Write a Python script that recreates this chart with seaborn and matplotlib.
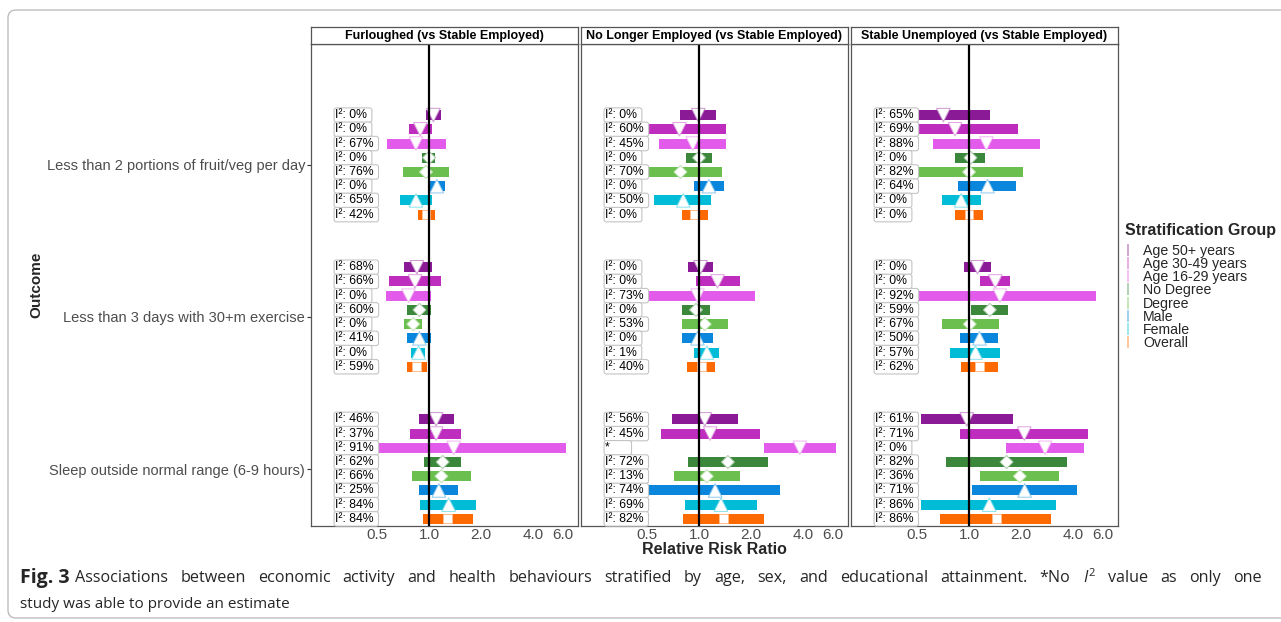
import numpy as np
import pandas as pd
import matplotlib
matplotlib.use("Agg")
import matplotlib.pyplot as plt
import matplotlib.transforms as mtransforms
from matplotlib.colors import to_rgb
from matplotlib.lines import Line2D
from matplotlib.patches import FancyBboxPatch
import seaborn as sns

# Forest plot: economic activity vs health behaviours, stratified

groups = ["Age 50+ years", "Age 30-49 years", "Age 16-29 years", "No Degree",
          "Degree", "Male", "Female", "Overall"]
group_colors = ["#8B1A96", "#BE2DBE", "#E35BEB", "#3B873B",
                "#6BBF4F", "#0A87DC", "#00BCD6", "#FF6A00"]
group_markers = ["v", "v", "v", "D", "D", "^", "^", "s"]
outcomes = ["Less than 2 portions of fruit/veg per day",
            "Less than 3 days with 30+m exercise",
            "Sleep outside normal range (6-9 hours)"]
panels = ["Furloughed (vs Stable Employed)",
          "No Longer Employed (vs Stable Employed)",
          "Stable Unemployed (vs Stable Employed)"]

# values: 3 outcomes x 8 groups, outcome-major
furl_est = [1.06, 0.89, 0.84, 1.00, 0.96, 1.11, 0.84, 0.96,
            0.85, 0.83, 0.76, 0.88, 0.81, 0.88, 0.87, 0.85,
            1.10, 1.10, 1.39, 1.20, 1.18, 1.14, 1.30, 1.28]
furl_lo = [0.96, 0.77, 0.57, 0.91, 0.71, 1.00, 0.68, 0.86,
           0.72, 0.59, 0.56, 0.75, 0.72, 0.75, 0.79, 0.75,
           0.88, 0.78, 0.42, 0.94, 0.80, 0.88, 0.89, 0.92]
furl_hi = [1.17, 1.04, 1.25, 1.09, 1.30, 1.23, 1.04, 1.09,
           1.04, 1.17, 1.03, 1.03, 0.91, 1.03, 0.95, 0.97,
           1.39, 1.54, 6.25, 1.54, 1.75, 1.48, 1.88, 1.79]
furl_i2 = ["0%", "0%", "67%", "0%", "76%", "0%", "65%", "42%",
           "68%", "66%", "0%", "60%", "0%", "41%", "0%", "59%",
           "46%", "37%", "91%", "62%", "66%", "25%", "84%", "84%"]

nle_est = [0.99, 0.77, 0.92, 1.00, 0.78, 1.14, 0.81, 0.94,
           1.02, 1.28, 0.98, 0.96, 1.08, 0.98, 1.11, 1.03,
           1.08, 1.16, 3.84, 1.47, 1.11, 1.24, 1.34, 1.38]
nle_lo = [0.78, 0.42, 0.59, 0.84, 0.42, 0.93, 0.55, 0.80,
          0.86, 0.96, 0.42, 0.80, 0.80, 0.80, 0.94, 0.85,
          0.70, 0.60, 2.37, 0.86, 0.72, 0.42, 0.83, 0.81]
nle_hi = [1.25, 1.44, 1.43, 1.19, 1.36, 1.39, 1.18, 1.12,
          1.20, 1.72, 2.10, 1.15, 1.48, 1.21, 1.31, 1.24,
          1.68, 2.27, 6.25, 2.50, 1.72, 2.94, 2.17, 2.37]
nle_i2 = ["0%", "60%", "45%", "0%", "70%", "0%", "50%", "0%",
          "0%", "0%", "73%", "0%", "53%", "0%", "1%", "40%",
          "56%", "45%", None, "72%", "13%", "74%", "69%", "82%"]

su_est = [0.71, 0.83, 1.26, 1.02, 1.00, 1.28, 0.90, 1.00,
          1.12, 1.42, 1.51, 1.32, 1.01, 1.15, 1.09, 1.15,
          0.97, 2.09, 2.76, 1.65, 1.97, 2.10, 1.31, 1.44]
su_lo = [0.42, 0.42, 0.62, 0.83, 0.42, 0.86, 0.70, 0.83,
         0.93, 1.15, 0.42, 1.03, 0.70, 0.89, 0.78, 0.90,
         0.53, 0.89, 1.63, 0.74, 1.16, 1.04, 0.53, 0.68]
su_hi = [1.33, 1.93, 2.57, 1.24, 2.06, 1.88, 1.17, 1.20,
         1.34, 1.73, 5.47, 1.68, 1.50, 1.47, 1.52, 1.47,
         1.80, 4.92, 4.66, 3.68, 3.34, 4.24, 3.19, 3.00]
su_i2 = ["65%", "69%", "88%", "0%", "82%", "64%", "0%", "0%",
         "0%", "0%", "92%", "59%", "67%", "50%", "57%", "62%",
         "61%", "71%", "0%", "82%", "36%", "71%", "86%", "86%"]

x_ticks = [0.5, 1.0, 2.0, 4.0, 6.0]
x_ticklabels = ["0.5", "1.0", "2.0", "4.0", "6.0"]

panel_data = [(furl_est, furl_lo, furl_hi, furl_i2),
              (nle_est, nle_lo, nle_hi, nle_i2),
              (su_est, su_lo, su_hi, su_i2)]

sns.set_theme(style="white")
plt.rcParams["font.family"] = ["Liberation Sans", "DejaVu Sans"]
plt.rcParams["mathtext.fontset"] = "custom"
plt.rcParams["mathtext.it"] = "Open Sans:italic"
plt.rcParams["mathtext.rm"] = "Open Sans"

W, H = 1281, 622
fig = plt.figure(figsize=(W / 100, H / 100), dpi=100)

GAP = 10.7  # spacing between outcome blocks, in rows
marker_map = dict(zip(groups, group_markers))
size_map = {g: (95 if m in ("v", "^") else 44 if m == "D" else 40)
            for g, m in zip(groups, group_markers)}
edge_tints = [tuple(0.55 + 0.45 * c for c in to_rgb(col)) for col in group_colors]
lefts = [311, 581, 851]
pw = 267
top, bottom = 44, 526
strip_top = 27

for p, (est, lo, hi, i2) in enumerate(panel_data):
    df = pd.DataFrame({
        "outcome": np.repeat(outcomes, len(groups)),
        "group": groups * len(outcomes),
        "color": group_colors * len(outcomes),
        "est": est, "lo": lo, "hi": hi, "i2": i2,
    })
    df["y"] = [o * GAP + (r - 3.5) for o in range(3) for r in range(8)]

    ax = fig.add_axes([lefts[p] / W, (H - bottom) / H, pw / W, (bottom - top) / H])
    ax.set_xscale("log")
    ax.barh(df["y"], df["hi"] - df["lo"], left=df["lo"], height=0.7,
            color=df["color"], linewidth=0, zorder=2)
    sns.scatterplot(data=df, x="est", y="y", style="group", markers=marker_map,
                    size="group", sizes=size_map, color="white",
                    edgecolor=edge_tints * len(outcomes),
                    linewidth=0.7, legend=False, ax=ax, zorder=3)
    ax.axvline(1.0, color="black", lw=1.6, zorder=4)

    trans = mtransforms.blended_transform_factory(ax.transAxes, ax.transData)
    for y, lab in zip(df["y"], df["i2"]):
        txt = "I\u00b2: " + lab + " " if lab is not None else "*      "
        ax.text(0.091, y, txt, transform=trans, ha="left", va="center",
                fontsize=8.8, color="black", zorder=5,
                bbox=dict(boxstyle="round,pad=0.1,rounding_size=0.2",
                          fc="white", ec="#c4c4c4", lw=0.8))

    ax.set_xlim(0.207, 7.3)
    ax.set_ylim(2 * GAP + 4.0, -8.5)
    ax.set_xticks(x_ticks)
    ax.set_xticklabels(x_ticklabels)
    ax.minorticks_off()
    ax.tick_params(axis="x", length=0, pad=1.5, labelsize=11, labelcolor="#4d4d4d")
    ax.set_xlabel("")
    ax.set_ylabel("")
    if p == 0:
        ax.set_yticks([o * GAP for o in range(3)])
        ax.set_yticklabels(outcomes)
        ax.tick_params(axis="y", left=True, length=3, width=0.8, color="#333333",
                       pad=1.2, labelsize=10.5, labelcolor="#4d4d4d")
    else:
        ax.set_yticks([])
    for s in ax.spines.values():
        s.set_color("#555555")
        s.set_linewidth(0.9)

    sax = fig.add_axes([lefts[p] / W, (H - top) / H, pw / W, (top - strip_top) / H])
    sax.set_xticks([])
    sax.set_yticks([])
    sax.set_facecolor("white")
    for s in sax.spines.values():
        s.set_color("#555555")
        s.set_linewidth(0.9)
    sax.text(0.5, 0.5, panels[p], ha="center", va="center", fontsize=9,
             fontweight="bold", color="black", transform=sax.transAxes)

fig.text(36 / W, 1 - 285 / H, "Outcome", rotation=90, ha="center", va="center",
         fontsize=11, fontweight="bold")
fig.text(714.5 / W, 1 - 550 / H, "Relative Risk Ratio", ha="center", va="center",
         fontsize=11.5, fontweight="bold")

# legend
fig.text(1125 / W, 1 - 230 / H, "Stratification Group", ha="left", va="center",
         fontsize=11.5, fontweight="bold")
handles = [Line2D([], [], marker="|", linestyle="None", color=c, alpha=0.45,
                  markersize=8, markeredgewidth=1.2) for c in group_colors]
fig.legend(handles, groups, loc="upper left",
           bbox_to_anchor=(1124 / W, 1 - 244 / H), frameon=False,
           fontsize=10.2, handlelength=0.6, handletextpad=0.75,
           labelspacing=-0.06, borderaxespad=0, borderpad=0)

# caption, first line justified
cap = ["Open Sans", "DejaVu Sans"]
fig.text(20 / W, 1 - 578 / H, "Fig. 3", ha="left", va="center", fontsize=14,
         fontweight="bold", family=cap)
line1 = ("Associations between economic activity and health behaviours stratified by "
         "age, sex, and educational attainment. *No $I^2$ value as only one")
renderer = fig.canvas.get_renderer()
words = line1.split(" ")
objs = [fig.text(0, 1 - 578 / H, w, ha="left", va="center", fontsize=11.6, family=cap)
        for w in words]
widths = [o.get_window_extent(renderer).width for o in objs]
space = (1262 - 75 - sum(widths)) / (len(words) - 1)
xpos = 75
for o, wd in zip(objs, widths):
    o.set_x(xpos / W)
    xpos += wd + space
fig.text(20 / W, 1 - 604 / H, "study was able to provide an estimate",
         ha="left", va="center", fontsize=11, family=cap)

border = FancyBboxPatch((8, 4), 1300, 608, boxstyle="round,pad=0,rounding_size=8",
                        transform=mtransforms.IdentityTransform(),
                        fc="none", ec="#bdbdbd", lw=1)
fig.patches.append(border)

fig.savefig("out.png", dpi=100)
